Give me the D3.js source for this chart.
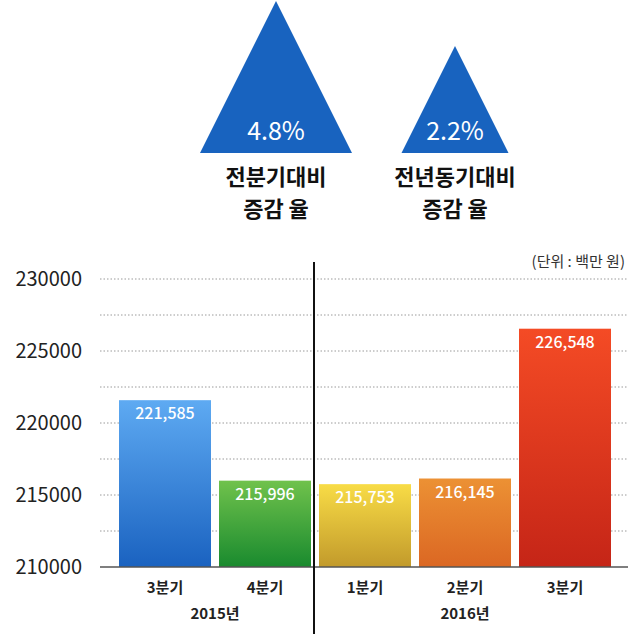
<!DOCTYPE html>
<html>
<head>
<meta charset="utf-8">
<script src="https://cdn.jsdelivr.net/npm/d3@7"></script>
<style>
  body { margin: 0; background: #fff; }
  svg { display: block; font-family: "Noto Sans CJK KR", "Noto Sans", sans-serif; }
</style>
</head>
<body>
<div id="chart"></div>
<script>
const quarters = [ '3분기', '4분기', '1분기', '2분기', '3분기' ];
const years = [ '2015년', '2015년', '2016년', '2016년', '2016년' ];
const sales = [ 221585, 215996, 215753, 216145, 226548 ];
const barColors = [
  [ '#5eaaf2', '#1a62c0' ],
  [ '#70c24c', '#198a2e' ],
  [ '#f8dc46', '#c29a2b' ],
  [ '#ec9134', '#db6723' ],
  [ '#f44b25', '#c52517' ]
];
const yTicks = [ 210000, 215000, 220000, 225000, 230000 ];
const rates = [ 4.8, 2.2 ];
const rateLabels = [ [ '전분기대비', '증감 율' ], [ '전년동기대비', '증감 율' ] ];
const unitLabel = '(단위 : 백만 원)';

const width = 640, height = 637;
const svg = d3.select( '#chart' ).append( 'svg' )
  .attr( 'width', width )
  .attr( 'height', height );

// triangles on top
const triSize = d3.scalePow().exponent( 0.45 ).domain( [ 0, 4.8 ] ).range( [ 0, 152 ] );
const triX = [ 276, 455 ];
const triBase = 153;
rates.forEach( ( r, i ) => {
  const h = triSize( r ), cx = triX[ i ];
  svg.append( 'path' )
    .attr( 'd', `M${cx},${triBase - h}L${cx + h / 2},${triBase}L${cx - h / 2},${triBase}Z` )
    .attr( 'fill', '#1863bf' );
  svg.append( 'text' )
    .attr( 'x', cx ).attr( 'y', 140 )
    .attr( 'text-anchor', 'middle' )
    .attr( 'fill', '#fff' )
    .attr( 'font-size', 25 )
    .text( r.toFixed( 1 ) + '%' );
  rateLabels[ i ].forEach( ( t, j ) => {
    svg.append( 'text' )
      .attr( 'x', cx ).attr( 'y', 185 + j * 32 )
      .attr( 'text-anchor', 'middle' )
      .attr( 'font-size', 22 )
      .attr( 'font-weight', 'bold' )
      .attr( 'fill', '#111' )
      .text( t );
  } );
} );

// bar chart
const y = d3.scaleLinear().domain( [ 210000, 230000 ] ).range( [ 567, 279 ] );
const x = d3.scaleBand().domain( d3.range( sales.length ) )
  .range( [ 115, 615 ] ).paddingInner( 0.08 ).paddingOuter( 0.04 );

const grid = d3.range( 210000, 230001, 2500 );
svg.append( 'g' ).selectAll( 'line' )
  .data( grid.filter( d => d > 210000 ) )
  .enter().append( 'line' )
  .attr( 'x1', 100 ).attr( 'x2', 628 )
  .attr( 'y1', d => y( d ) ).attr( 'y2', d => y( d ) )
  .attr( 'stroke', '#9a9a9a' )
  .attr( 'stroke-width', 1 )
  .attr( 'stroke-dasharray', '1.5,2' );

const yAxis = d3.axisLeft( y ).tickValues( yTicks ).tickSize( 0 ).tickPadding( 0 ).tickFormat( d3.format( 'd' ) );
svg.append( 'g' )
  .attr( 'transform', 'translate(82,0)' )
  .call( yAxis )
  .call( g => g.select( '.domain' ).remove() )
  .selectAll( 'text' )
  .attr( 'font-size', 20 )
  .attr( 'fill', '#222' )
  .attr( 'font-family', '"Noto Sans CJK KR", sans-serif' );

const defs = svg.append( 'defs' );
barColors.forEach( ( c, i ) => {
  const g = defs.append( 'linearGradient' )
    .attr( 'id', 'grad' + i )
    .attr( 'x1', 0 ).attr( 'y1', 0 ).attr( 'x2', 0 ).attr( 'y2', 1 );
  g.append( 'stop' ).attr( 'offset', '0%' ).attr( 'stop-color', c[ 0 ] );
  g.append( 'stop' ).attr( 'offset', '100%' ).attr( 'stop-color', c[ 1 ] );
} );

svg.append( 'g' ).selectAll( 'rect' )
  .data( sales )
  .enter().append( 'rect' )
  .attr( 'x', ( d, i ) => x( i ) )
  .attr( 'width', x.bandwidth() )
  .attr( 'y', d => y( d ) )
  .attr( 'height', d => y( 210000 ) - y( d ) )
  .attr( 'fill', ( d, i ) => `url(#grad${i})` );

svg.append( 'g' ).selectAll( 'text' )
  .data( sales )
  .enter().append( 'text' )
  .attr( 'x', ( d, i ) => x( i ) + x.bandwidth() / 2 )
  .attr( 'y', d => y( d ) + 19 )
  .attr( 'text-anchor', 'middle' )
  .attr( 'fill', '#fff' )
  .attr( 'font-size', 16 )
  .attr( 'font-weight', 500 )
  .text( d => d3.format( ',' )( d ) );

// baseline
svg.append( 'line' )
  .attr( 'x1', 100 ).attr( 'x2', 628 )
  .attr( 'y1', y( 210000 ) ).attr( 'y2', y( 210000 ) )
  .attr( 'stroke', '#555' ).attr( 'stroke-width', 1.5 );

// quarter labels
svg.append( 'g' ).selectAll( 'text' )
  .data( quarters )
  .enter().append( 'text' )
  .attr( 'x', ( d, i ) => x( i ) + x.bandwidth() / 2 )
  .attr( 'y', 593 )
  .attr( 'text-anchor', 'middle' )
  .attr( 'font-size', 15 )
  .attr( 'font-weight', 'bold' )
  .attr( 'fill', '#222' )
  .text( d => d );

// year labels, centred under their quarters
const yearGroups = d3.groups( years.map( ( yr, i ) => ( { yr, i } ) ), d => d.yr );
svg.append( 'g' ).selectAll( 'text' )
  .data( yearGroups )
  .enter().append( 'text' )
  .attr( 'x', d => {
    const idx = d[ 1 ].map( e => e.i );
    return ( x( d3.min( idx ) ) + x( d3.max( idx ) ) + x.bandwidth() ) / 2;
  } )
  .attr( 'y', 619 )
  .attr( 'text-anchor', 'middle' )
  .attr( 'font-size', 15 )
  .attr( 'font-weight', 'bold' )
  .attr( 'fill', '#222' )
  .text( d => d[ 0 ] );

// divider between years
const splitAt = years.indexOf( '2016년' );
const divX = ( x( splitAt - 1 ) + x.bandwidth() + x( splitAt ) ) / 2 - 1;
svg.append( 'line' )
  .attr( 'x1', divX ).attr( 'x2', divX )
  .attr( 'y1', 262 ).attr( 'y2', 634 )
  .attr( 'stroke', '#111' ).attr( 'stroke-width', 2 );

svg.append( 'text' )
  .attr( 'x', 625 ).attr( 'y', 267 )
  .attr( 'text-anchor', 'end' )
  .attr( 'font-size', 15 )
  .attr( 'fill', '#333' )
  .text( unitLabel );
</script>
</body>
</html>
